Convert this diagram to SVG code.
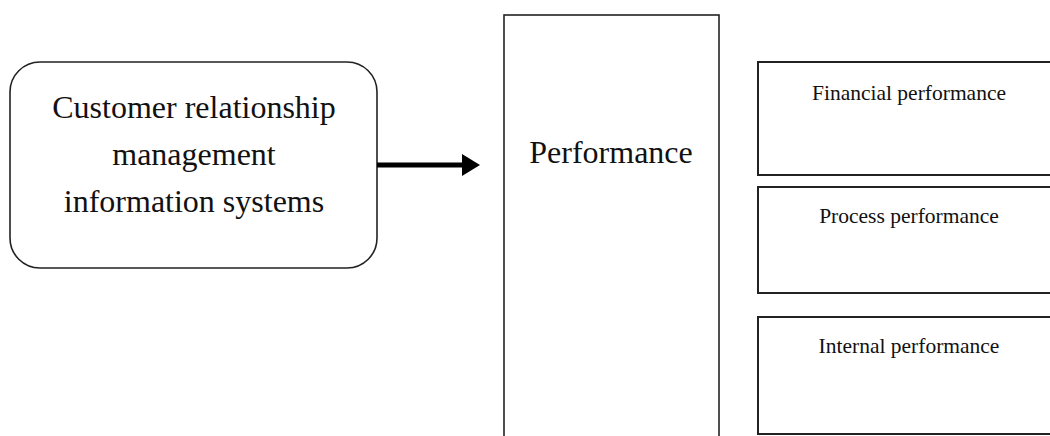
<svg xmlns="http://www.w3.org/2000/svg" width="1050" height="436" viewBox="0 0 1050 436">
  <style>
    .box { fill: #ffffff; stroke: #222222; stroke-width: 1.6; }
    .sub { fill: #ffffff; stroke: #222222; stroke-width: 2; }
    .big { font-family: "Liberation Serif", "Times New Roman", serif; font-size: 32px; fill: #111111; text-anchor: middle; }
    .small { font-family: "Liberation Serif", "Times New Roman", serif; font-size: 21.5px; fill: #111111; text-anchor: middle; }
    .conn { stroke: #000000; stroke-width: 5; fill: none; }
  </style>
  <defs>
    <marker id="arrow" markerUnits="userSpaceOnUse" markerWidth="19" markerHeight="24" refX="1" refY="12" orient="auto">
      <path d="M0,1 L18,12 L0,23 Z" fill="#000000"/>
    </marker>
  </defs>
  <rect width="1050" height="436" fill="#ffffff"/>

  <g id="crm">
    <rect class="box" x="10" y="62" width="367" height="206" rx="30" ry="30"/>
    <text class="big" x="194" y="118">Customer relationship</text>
    <text class="big" x="194" y="165">management</text>
    <text class="big" x="194" y="212">information systems</text>
  </g>

  <g id="performance">
    <rect class="box" x="504" y="15" width="215" height="430"/>
    <text class="big" x="611" y="163">Performance</text>
  </g>

  <g id="financial">
    <rect class="sub" x="758" y="62" width="302" height="113"/>
    <text class="small" x="909" y="100">Financial performance</text>
  </g>

  <g id="process">
    <rect class="sub" x="758" y="187" width="302" height="106"/>
    <text class="small" x="909" y="223">Process performance</text>
  </g>

  <g id="internal">
    <rect class="sub" x="758" y="317" width="302" height="117"/>
    <text class="small" x="909" y="353">Internal performance</text>
  </g>

  <g id="connectors">
    <line class="conn" x1="377" y1="165" x2="463" y2="165" marker-end="url(#arrow)"/>
  </g>
</svg>
